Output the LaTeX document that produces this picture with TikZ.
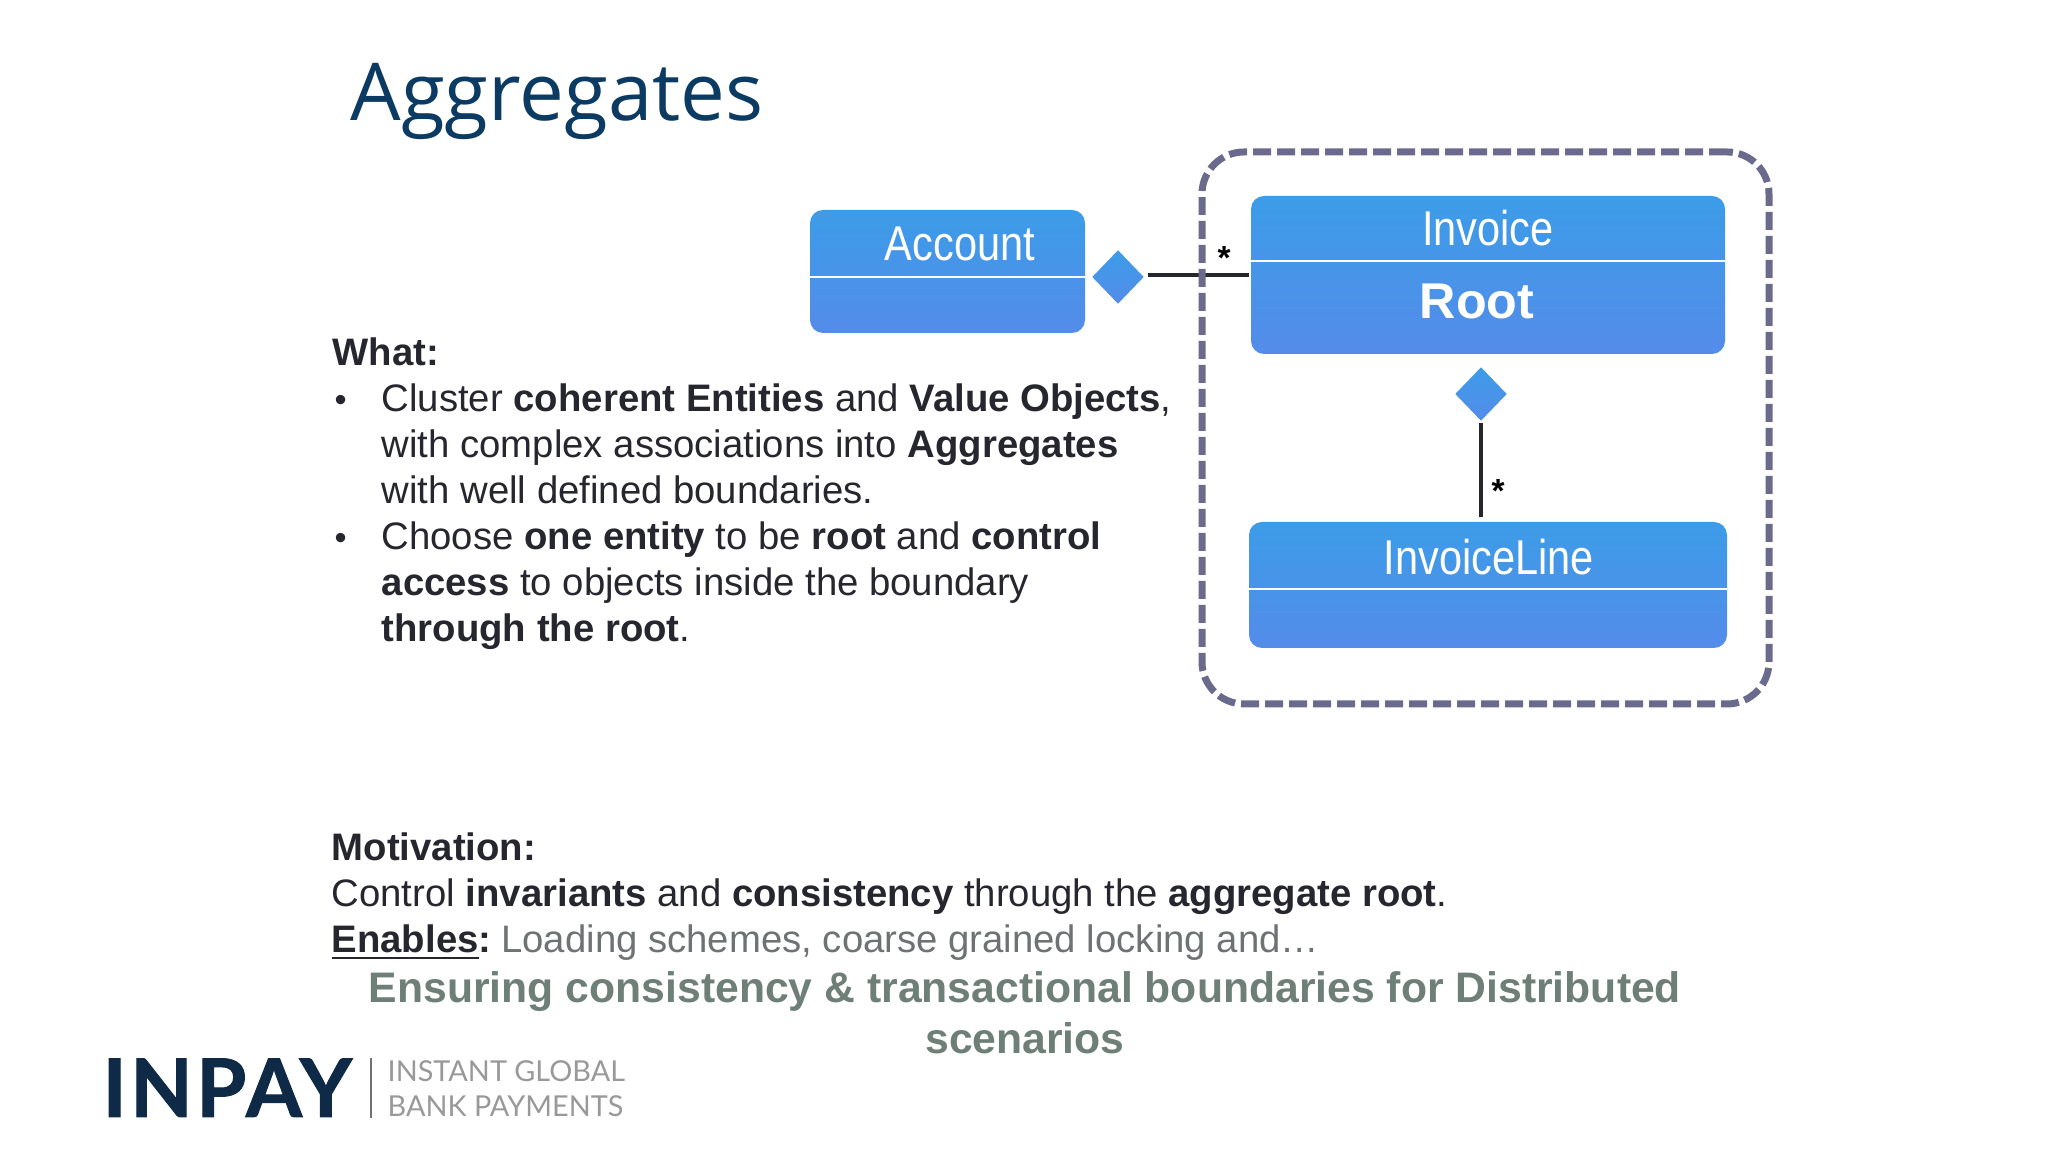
\documentclass[tikz,border=0pt]{standalone}
\usepackage{fontspec}
\setmainfont{Liberation Sans}
\newfontfamily\titlefont{Open Sans}
\newfontfamily\logofont[LetterSpace=4.5,BoldFeatures={FakeBold=1.2}]{Lato}
\newfontfamily\tagfont{Lato}
\newfontfamily\classfont[FakeStretch=0.85]{Liberation Sans}
\usetikzlibrary{shapes.geometric}
\definecolor{titleblue}{HTML}{0B3A62}
\definecolor{bodydark}{HTML}{26262E}
\definecolor{softgray}{HTML}{6E7273}
\definecolor{sagegray}{HTML}{6E7F78}
\definecolor{boxtop}{HTML}{3C9CE8}
\definecolor{boxbottom}{HTML}{548CE9}
\definecolor{dashgray}{HTML}{6A6A8C}
\definecolor{logoblue}{HTML}{0E2A47}
\tikzset{
    classbox/.style={rectangle, rounded corners=0.13cm, top color=boxtop, bottom color=boxbottom,
        inner sep=0pt, outer sep=0pt},
    classname/.style={inner sep=0pt, text=white, font=\classfont\fontsize{13.9}{16}\selectfont},
    aggdiamond/.style={diamond, aspect=1, top color=boxtop, bottom color=boxbottom, inner sep=0pt,
        minimum width=0.52cm, minimum height=0.54cm},
    assoc/.style={line width=0.04cm, draw=bodydark},
    multiplicity/.style={inner sep=0pt, font=\bfseries\fontsize{9.5}{10}\selectfont},
    bodytext/.style={inner sep=0pt, anchor=north west, align=left, text=bodydark,
        font=\fontsize{10.9}{13.1}\selectfont},
}
\newcommand{\classnode}[6]{
    \node[classbox, minimum width=#3cm, minimum height=#4cm] (#1) at (#2) {};
    \draw[white, line width=0.02cm] ([yshift=-#5cm]#1.north west) -- ([yshift=-#5cm]#1.north east);
}
\newcommand{\bulletline}{\makebox[0.49cm][l]{\hspace{0.02cm}\scalebox{0.9}{\textbullet}}}
\begin{document}
\begin{tikzpicture}
    \useasboundingbox (0,0) rectangle (20.48,11.52);
    % title
    \node[inner sep=0pt, anchor=base west, text=titleblue, font=\titlefont\fontsize{22.7}{26}\selectfont] (title) at (3.5,10.31) {Aggregates};
    % classes
    \classnode{account}{9.475,8.805}{2.75}{1.23}{0.67}{}
    \classnode{invoice}{14.88,8.77}{4.74}{1.58}{0.65}{}
    \classnode{invoiceline}{14.88,5.67}{4.78}{1.26}{0.67}{}
    \node[classname] (accountname) at (9.6,9.08) {Account};
    \node[classname] (invoicename) at (14.88,9.24) {Invoice};
    \node[inner sep=0pt, text=white, font=\bfseries\fontsize{14.3}{16}\selectfont] (rootname) at (14.77,8.51) {Root};
    \node[classname] (invoicelinename) at (14.89,5.95) {InvoiceLine};
    \node[aggdiamond] (accountdiamond) at (11.18,8.75) {};
    \node[aggdiamond] (invoicediamond) at (14.81,7.58) {};
    \draw[assoc, shorten <=0.03cm, shorten >=0.02cm] (accountdiamond.east |- invoice.west) -- (invoice.west);
    \draw[assoc, shorten <=0.01cm, shorten >=0.05cm] (invoicediamond.south) -- (invoicediamond.south |- invoiceline.north);
    \node[multiplicity] (accountstar) at (12.24,8.94) {*};
    \node[multiplicity] (linestar) at (14.98,6.61) {*};
    % boundary
    \node[rectangle, draw=dashgray, line width=0.07cm, dash pattern=on 0.18cm off 0.06cm, rounded corners=0.42cm,
        inner sep=0pt, outer sep=0pt, minimum width=5.67cm, minimum height=5.52cm] (boundary) at (14.855,7.24) {};
    % text
    \node[bodytext] (what) at (3.32,8.15) {\textbf{What:}\\
        \bulletline Cluster \textbf{coherent Entities} and \textbf{Value Objects},\\
        \hspace{0.49cm}with complex associations into \textbf{Aggregates}\\
        \hspace{0.49cm}with well defined boundaries.\\
        \bulletline Choose \textbf{one entity} to be \textbf{root} and \textbf{control}\\
        \hspace{0.49cm}\textbf{access} to objects inside the boundary\\
        \hspace{0.49cm}\textbf{through the root}.};
    \node[bodytext] (motivation) at (3.31,3.2) {\textbf{Motivation:}\\
        Control \textbf{invariants} and \textbf{consistency} through the \textbf{aggregate root}.\\
        \textbf{\underline{Enables}:}\hspace{0.1cm}{\color{softgray}Loading schemes, coarse grained locking and…}};
    \node[inner sep=0pt, anchor=north, align=center, text=sagegray, font=\bfseries\fontsize{12.15}{14.5}\selectfont] (ensuring) at (10.25,1.81)
        {Ensuring consistency \& transactional boundaries for Distributed\\scenarios};
    % logo
    \node[inner sep=0pt, anchor=base west, text=logoblue, font=\logofont\bfseries\fontsize{23}{26}\selectfont] (inpay) at (1.02,0.35) {INPAY};
    \draw[softgray, line width=0.015cm] (3.71,0.34) -- (3.71,0.94);
    \node[inner sep=0pt, anchor=south west, align=left, text=black!40, font=\tagfont\fontsize{8.2}{9.96}\selectfont] (tagline) at (3.87,0.35) {INSTANT GLOBAL\\BANK PAYMENTS};
\end{tikzpicture}
\end{document}
